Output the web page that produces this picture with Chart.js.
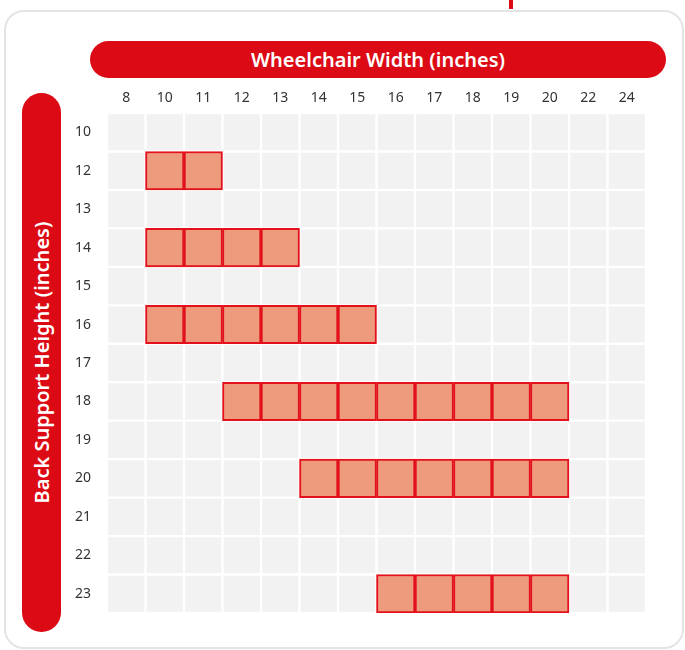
<!DOCTYPE html>
<html lang="en">
<head>
    <meta charset="UTF-8">
    <title>Wheelchair Width vs Back Support Height</title>
    <script src="https://cdn.jsdelivr.net/npm/chart.js"></script>
    <style>
        html, body { margin: 0; padding: 0; background: #fff; }
        body { width: 685px; height: 650px; position: relative; overflow: hidden; font-family: 'Noto Sans', sans-serif; }
        .card { position: absolute; left: 4px; top: 10px; width: 676px; height: 635px; border: 2px solid #e4e4e4; border-radius: 20px; }
        .notch { position: absolute; left: 509px; top: 0; width: 4px; height: 9px; background: #dc0a14; }
        .pill { position: absolute; background: #dc0a14; color: #fff; font-weight: 600; font-size: 20px; display: flex; align-items: center; justify-content: center; }
        .pill-x { left: 90px; top: 41px; width: 576px; height: 37px; border-radius: 19px; }
        .pill-y { left: 22px; top: 93px; width: 39px; height: 539px; border-radius: 20px; }
        .pill-y span { transform: rotate(-90deg); white-space: nowrap; display: block; }
        #wrap { position: absolute; left: 0; top: 0; width: 685px; height: 650px; }
    </style>
</head>
<body>
    <div class="notch"></div>
    <div class="card"></div>
    <div class="pill pill-x">Wheelchair Width (inches)</div>
    <div class="pill pill-y"><span>Back Support Height (inches)</span></div>
    <div id="wrap"><canvas id="fitChart"></canvas></div>

    <script>
        // column and row labels
        const widths = ['8', '10', '11', '12', '13', '14', '15', '16', '17', '18', '19', '20', '22', '24'];
        const heights = ['10', '12', '13', '14', '15', '16', '17', '18', '19', '20', '21', '22', '23'];

        // which width range fits each back height
        const fitHeights = ['12', '14', '16', '18', '20', '23'];
        const fitFirstWidth = ['10', '10', '10', '12', '14', '16'];
        const fitLastWidth = ['11', '13', '15', '20', '20', '20'];

        // grey background cells, one dataset per width column
        const bgDatasets = widths.map((w, c) => ({
            data: heights.map((h) => ({ x: [c, c + 1], y: h })),
            backgroundColor: '#f2f2f2',
            borderColor: '#ffffff',
            borderWidth: 1.5,
            borderSkipped: false,
            order: 2
        }));

        // highlighted cells: dataset k holds the k-th cell of every row
        const fitDatasets = [];
        fitHeights.forEach((h, i) => {
            const a = widths.indexOf(fitFirstWidth[i]);
            const b = widths.indexOf(fitLastWidth[i]);
            for (let c = a; c <= b; c++) {
                const k = c - a;
                if (!fitDatasets[k]) {
                    fitDatasets[k] = {
                        data: [],
                        backgroundColor: '#ee9a7c',
                        borderColor: '#e2111c',
                        borderWidth: 2,
                        borderSkipped: false,
                        order: 1
                    };
                }
                fitDatasets[k].data.push({ x: [c, c + 1], y: h });
            }
        });

        const ctx = document.getElementById('fitChart').getContext('2d');
        new Chart(ctx, {
            type: 'bar',
            data: {
                labels: heights,
                datasets: bgDatasets.concat(fitDatasets)
            },
            options: {
                indexAxis: 'y',
                responsive: true,
                maintainAspectRatio: false,
                animation: false,
                grouped: false,
                barPercentage: 1,
                categoryPercentage: 1,
                layout: { padding: { left: 60, right: 39, top: 0, bottom: 37 } },
                plugins: {
                    legend: { display: false },
                    tooltip: { enabled: false }
                },
                scales: {
                    x: { type: 'linear', min: 0, max: widths.length, display: false },
                    xTop: {
                        type: 'category',
                        position: 'top',
                        labels: widths,
                        offset: true,
                        grid: { display: false },
                        border: { display: false },
                        ticks: { color: '#333', font: { family: 'Noto Sans', size: 14 }, padding: -1, maxRotation: 0 },
                        afterFit: (scale) => { scale.height = 113; }
                    },
                    y: {
                        type: 'category',
                        labels: heights,
                        offset: true,
                        grid: { display: false },
                        border: { display: false },
                        ticks: { color: '#333', font: { family: 'Noto Sans', size: 14 }, padding: 8 },
                        afterFit: (scale) => { scale.width = 47; }
                    }
                }
            }
        });
    </script>
</body>
</html>
